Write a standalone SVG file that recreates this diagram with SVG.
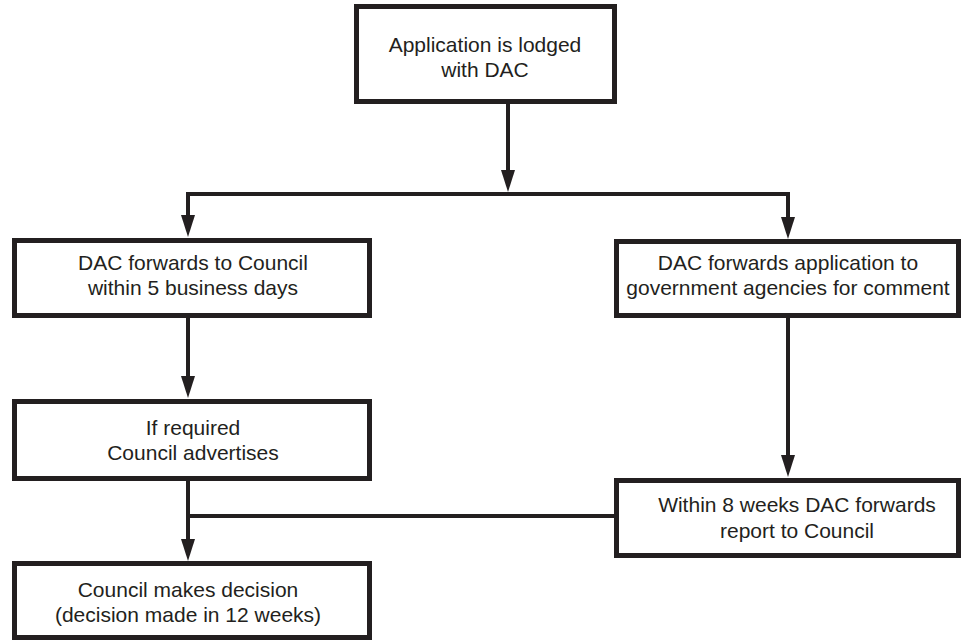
<svg xmlns="http://www.w3.org/2000/svg" width="964" height="641" viewBox="0 0 964 641">
<style>
.box{fill:#fff;stroke:#231f20;stroke-width:5}
.lbl{font-family:"Liberation Sans","Noto Sans",sans-serif;font-size:21px;fill:#231f20;text-anchor:middle}
.con{fill:none;stroke:#231f20;stroke-width:4}
</style>
<defs>
<marker id="arr" viewBox="0 0 22 14" refX="10" refY="7" markerWidth="22" markerHeight="14" markerUnits="userSpaceOnUse" orient="auto">
<path d="M0,0 L22,7 L0,14 Z" fill="#231f20"/>
</marker>
</defs>
<rect width="964" height="641" fill="#fff"/>
<g id="connectors">
<path class="con" d="M508,104 V180" marker-end="url(#arr)"/>
<path class="con" d="M188,194 H788 V227" marker-end="url(#arr)"/>
<path class="con" d="M188,192 V225" marker-end="url(#arr)"/>
<path class="con" d="M188,318 V386" marker-end="url(#arr)"/>
<path class="con" d="M788,317 V465" marker-end="url(#arr)"/>
<path class="con" d="M188,481 V549" marker-end="url(#arr)"/>
<path class="con" d="M188,516 H614"/>
</g>
<g id="n1"><rect class="box" x="356.5" y="6.5" width="258" height="95"/>
<text class="lbl" x="485" y="52">Application is lodged</text><text class="lbl" x="485" y="77">with DAC</text></g>
<g id="n2"><rect class="box" x="14.5" y="240.5" width="355" height="75"/>
<text class="lbl" x="193" y="270">DAC forwards to Council</text><text class="lbl" x="193" y="295">within 5 business days</text></g>
<g id="n3"><rect class="box" x="616.5" y="241.5" width="342" height="74"/>
<text class="lbl" x="788" y="270">DAC forwards application to</text><text class="lbl" x="788" y="295">government agencies for comment</text></g>
<g id="n4"><rect class="box" x="14.5" y="401.5" width="355" height="77"/>
<text class="lbl" x="193" y="435">If required</text><text class="lbl" x="193" y="460">Council advertises</text></g>
<g id="n5"><rect class="box" x="616.5" y="480.5" width="342" height="75"/>
<text class="lbl" x="797" y="512">Within 8 weeks DAC forwards</text><text class="lbl" x="797" y="538">report to Council</text></g>
<g id="n6"><rect class="box" x="14.5" y="563.5" width="355" height="74"/>
<text class="lbl" x="188" y="597">Council makes decision</text><text class="lbl" x="188" y="622">(decision made in 12 weeks)</text></g>
</svg>
